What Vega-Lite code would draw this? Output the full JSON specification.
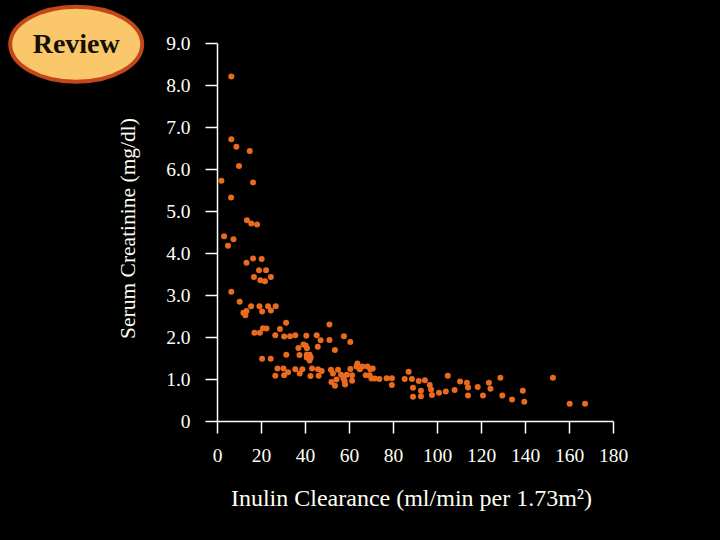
{
  "$schema": "https://vega.github.io/schema/vega-lite/v6.json",
  "autosize": {"type": "none"},
  "width": 396,
  "height": 378,
  "padding": {"left": 217, "top": 43, "right": 107, "bottom": 119},
  "background": "#000000",
  "config": {"view": {"stroke": null}},
  "datasets": {
    "pts": [
      {"gfr": 6.5, "scr": 8.20}, {"gfr": 6.5, "scr": 6.71}, {"gfr": 8.8, "scr": 6.53}, {"gfr": 14.9, "scr": 6.43},
      {"gfr": 10.0, "scr": 6.07}, {"gfr": 2.0, "scr": 5.72}, {"gfr": 16.4, "scr": 5.68}, {"gfr": 6.4, "scr": 5.32},
      {"gfr": 13.6, "scr": 4.78}, {"gfr": 15.6, "scr": 4.70}, {"gfr": 18.2, "scr": 4.68}, {"gfr": 3.2, "scr": 4.40},
      {"gfr": 7.5, "scr": 4.33}, {"gfr": 5.0, "scr": 4.17}, {"gfr": 13.4, "scr": 3.77}, {"gfr": 16.4, "scr": 3.87},
      {"gfr": 20.3, "scr": 3.86}, {"gfr": 19.1, "scr": 3.59}, {"gfr": 22.3, "scr": 3.59}, {"gfr": 16.8, "scr": 3.43},
      {"gfr": 24.5, "scr": 3.43}, {"gfr": 19.7, "scr": 3.35}, {"gfr": 21.8, "scr": 3.33}, {"gfr": 6.5, "scr": 3.08},
      {"gfr": 10.3, "scr": 2.84}, {"gfr": 15.5, "scr": 2.73}, {"gfr": 19.3, "scr": 2.73}, {"gfr": 23.2, "scr": 2.73},
      {"gfr": 26.7, "scr": 2.73}, {"gfr": 20.5, "scr": 2.61}, {"gfr": 24.5, "scr": 2.63}, {"gfr": 12.0, "scr": 2.58},
      {"gfr": 13.4, "scr": 2.62}, {"gfr": 12.9, "scr": 2.52}, {"gfr": 31.4, "scr": 2.34}, {"gfr": 28.6, "scr": 2.19},
      {"gfr": 20.9, "scr": 2.21}, {"gfr": 22.5, "scr": 2.20}, {"gfr": 17.0, "scr": 2.10}, {"gfr": 19.5, "scr": 2.10},
      {"gfr": 26.5, "scr": 2.04}, {"gfr": 30.5, "scr": 2.01}, {"gfr": 33.2, "scr": 2.02}, {"gfr": 35.6, "scr": 2.04},
      {"gfr": 40.6, "scr": 2.03}, {"gfr": 45.3, "scr": 2.04}, {"gfr": 47.1, "scr": 1.92}, {"gfr": 51.1, "scr": 2.30},
      {"gfr": 51.1, "scr": 1.93}, {"gfr": 57.7, "scr": 2.02}, {"gfr": 60.6, "scr": 1.88}, {"gfr": 37.0, "scr": 1.74},
      {"gfr": 39.3, "scr": 1.82}, {"gfr": 40.3, "scr": 1.80}, {"gfr": 40.9, "scr": 1.73}, {"gfr": 45.8, "scr": 1.77},
      {"gfr": 53.6, "scr": 1.69}, {"gfr": 37.5, "scr": 1.57}, {"gfr": 31.5, "scr": 1.58}, {"gfr": 20.5, "scr": 1.48},
      {"gfr": 24.4, "scr": 1.48}, {"gfr": 40.8, "scr": 1.58}, {"gfr": 42.1, "scr": 1.58}, {"gfr": 40.8, "scr": 1.51},
      {"gfr": 42.6, "scr": 1.51}, {"gfr": 42.1, "scr": 1.44}, {"gfr": 27.5, "scr": 1.25}, {"gfr": 30.2, "scr": 1.25},
      {"gfr": 26.5, "scr": 1.08}, {"gfr": 30.5, "scr": 1.09}, {"gfr": 32.3, "scr": 1.16}, {"gfr": 35.6, "scr": 1.23},
      {"gfr": 37.6, "scr": 1.13}, {"gfr": 38.8, "scr": 1.23}, {"gfr": 42.5, "scr": 1.07}, {"gfr": 43.2, "scr": 1.25},
      {"gfr": 45.9, "scr": 1.23}, {"gfr": 46.2, "scr": 1.08}, {"gfr": 47.6, "scr": 1.19}, {"gfr": 51.8, "scr": 1.22},
      {"gfr": 52.7, "scr": 1.13}, {"gfr": 52.0, "scr": 0.93}, {"gfr": 53.6, "scr": 0.84}, {"gfr": 55.0, "scr": 1.22},
      {"gfr": 56.4, "scr": 1.10}, {"gfr": 57.5, "scr": 1.01}, {"gfr": 58.2, "scr": 0.87}, {"gfr": 59.0, "scr": 1.10},
      {"gfr": 60.6, "scr": 1.24}, {"gfr": 61.4, "scr": 1.09}, {"gfr": 61.4, "scr": 0.96}, {"gfr": 63.4, "scr": 1.30},
      {"gfr": 63.8, "scr": 1.37}, {"gfr": 64.9, "scr": 1.23}, {"gfr": 66.1, "scr": 1.30}, {"gfr": 67.6, "scr": 1.09},
      {"gfr": 68.4, "scr": 1.30}, {"gfr": 69.7, "scr": 1.23}, {"gfr": 69.4, "scr": 1.09}, {"gfr": 70.8, "scr": 1.25},
      {"gfr": 70.2, "scr": 1.01}, {"gfr": 71.7, "scr": 1.01}, {"gfr": 73.8, "scr": 1.00}, {"gfr": 77.1, "scr": 1.02},
      {"gfr": 79.5, "scr": 1.02}, {"gfr": 79.5, "scr": 0.86}, {"gfr": 54.3, "scr": 0.99}, {"gfr": 58.0, "scr": 0.95},
      {"gfr": 85.3, "scr": 1.00}, {"gfr": 87.1, "scr": 1.17}, {"gfr": 88.6, "scr": 1.00}, {"gfr": 89.1, "scr": 0.79},
      {"gfr": 89.1, "scr": 0.58}, {"gfr": 91.7, "scr": 0.95}, {"gfr": 92.7, "scr": 0.72}, {"gfr": 92.7, "scr": 0.59},
      {"gfr": 94.5, "scr": 0.97}, {"gfr": 96.7, "scr": 0.86}, {"gfr": 97.3, "scr": 0.75}, {"gfr": 97.7, "scr": 0.62},
      {"gfr": 100.9, "scr": 0.67}, {"gfr": 104.0, "scr": 0.70}, {"gfr": 104.9, "scr": 1.08}, {"gfr": 108.0, "scr": 0.74},
      {"gfr": 110.5, "scr": 0.94}, {"gfr": 113.6, "scr": 0.91}, {"gfr": 114.1, "scr": 0.80}, {"gfr": 114.1, "scr": 0.61},
      {"gfr": 118.5, "scr": 0.81}, {"gfr": 120.9, "scr": 0.61}, {"gfr": 123.6, "scr": 0.91}, {"gfr": 124.3, "scr": 0.77},
      {"gfr": 128.8, "scr": 1.03}, {"gfr": 129.7, "scr": 0.61}, {"gfr": 134.1, "scr": 0.51}, {"gfr": 139.0, "scr": 0.72},
      {"gfr": 139.7, "scr": 0.46}, {"gfr": 152.7, "scr": 1.03}, {"gfr": 160.3, "scr": 0.41}, {"gfr": 167.3, "scr": 0.41}
    ],
    "badge": [{"gfr": -64.0, "scr": 8.97, "label": "Review"}]
  },
  "layer": [
    {
      "data": {"name": "pts"},
      "mark": {"type": "point", "filled": true, "shape": "circle", "size": 36, "color": "#EA6A1E", "opacity": 1},
      "encoding": {
        "x": {
          "field": "gfr", "type": "quantitative",
          "scale": {"domain": [0, 180], "nice": false, "zero": false},
          "axis": {
            "title": "Inulin Clearance (ml/min per 1.73m²)",
            "values": [0, 20, 40, 60, 80, 100, 120, 140, 160, 180],
            "grid": false,
            "domainColor": "#FFFFFF", "domainWidth": 1.5,
            "tickColor": "#FFFFFF", "tickSize": 12, "tickWidth": 1.5,
            "labelColor": "#FFFFF4", "labelFont": "Liberation Serif", "labelFontSize": 19.5,
            "labelPadding": 13, "labelFlush": false, "labelOverlap": false,
            "titleColor": "#FFFFF4", "titleFont": "Liberation Serif", "titleFontSize": 24, "titleFontWeight": "normal",
            "titleX": 194, "titleY": 77, "titleBaseline": "middle", "titleAnchor": null
          }
        },
        "y": {
          "field": "scr", "type": "quantitative",
          "scale": {"domain": [0, 9], "nice": false, "zero": false},
          "axis": {
            "title": "Serum Creatinine (mg/dl)",
            "values": [0, 1, 2, 3, 4, 5, 6, 7, 8, 9],
            "labelExpr": "datum.value == 0 ? '0' : format(datum.value, '.1f')",
            "grid": false,
            "domainColor": "#FFFFFF", "domainWidth": 1.5,
            "tickColor": "#FFFFFF", "tickSize": 12, "tickWidth": 1.5,
            "labelColor": "#FFFFF4", "labelFont": "Liberation Serif", "labelFontSize": 19.5,
            "labelPadding": 15, "labelFlush": false, "labelOverlap": false,
            "titleColor": "#FFFFF4", "titleFont": "Liberation Serif", "titleFontSize": 21.5, "titleFontWeight": "normal",
            "titleX": -89, "titleY": 185, "titleBaseline": "middle", "titleAngle": -90
          }
        }
      }
    },
    {
      "data": {"name": "badge"},
      "mark": {"type": "point", "filled": true, "shape": "M-1,0A1,0.568,0,1,0,1,0A1,0.568,0,1,0,-1,0Z", "size": 17424, "fill": "#FAC76B", "stroke": "#C4461B", "strokeWidth": 4, "opacity": 1, "strokeOpacity": 1, "fillOpacity": 1},
      "encoding": {
        "x": {"field": "gfr", "type": "quantitative"},
        "y": {"field": "scr", "type": "quantitative"}
      }
    },
    {
      "data": {"name": "badge"},
      "mark": {"type": "text", "font": "Liberation Serif", "fontSize": 28, "fontWeight": "bold", "color": "#141008", "baseline": "middle", "align": "center", "dy": 1},
      "encoding": {
        "x": {"field": "gfr", "type": "quantitative"},
        "y": {"field": "scr", "type": "quantitative"},
        "text": {"field": "label"}
      }
    }
  ]
}
